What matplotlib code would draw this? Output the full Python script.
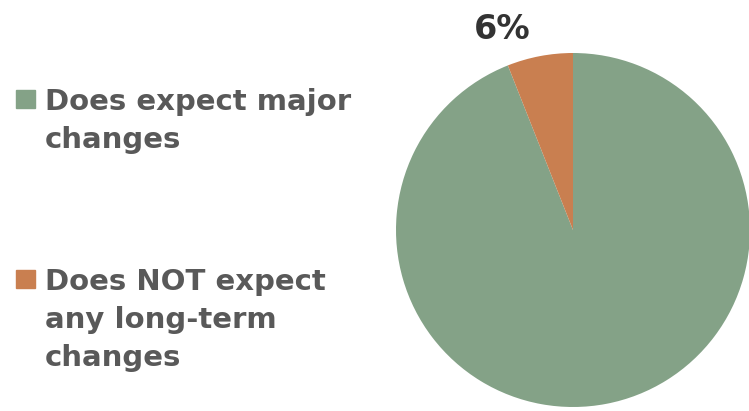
import matplotlib.pyplot as plt
from matplotlib.patches import Rectangle

labels = ["Does expect major\nchanges", "Does NOT expect\nany long-term\nchanges"]
shares = [94, 6]
colors = ["#84A287", "#C97F50"]

W, H = 749, 411
fig = plt.figure(figsize=(W / 100, H / 100), dpi=100)

# pie sits on the right, partly running off the canvas
cx, cy, r = 573, 230, 177
ax = fig.add_axes([(cx - r) / W, (H - cy - r) / H, 2 * r / W, 2 * r / H])
ax.pie(shares, colors=colors, startangle=90, counterclock=False,
       wedgeprops=dict(linewidth=0))
ax.set_xlim(-1, 1)
ax.set_ylim(-1, 1)
ax.set_aspect("equal")
ax.axis("off")

# only the small slice gets a percentage label
ax.text(-0.40, 1.13, f"{shares[1]}%", ha="center", va="center",
        fontsize=24, fontweight="bold", color="#333333")

# hand-made legend on the left, one text per line
text_color = "#595959"
line_step = 38
rows = [(110, 0), (290, 1)]  # baseline of first line (px from top), series index
for base, i in rows:
    fig.patches.append(Rectangle((16 / W, (H - base + 2) / H), 19 / W, 18 / H,
                                 transform=fig.transFigure, color=colors[i]))
    for k, line in enumerate(labels[i].split("\n")):
        y = base + k * line_step
        fig.text(45 / W, 1 - y / H, line, ha="left", va="baseline",
                 fontsize=21, fontweight="bold", color=text_color)

fig.savefig("out.png", dpi=100)
